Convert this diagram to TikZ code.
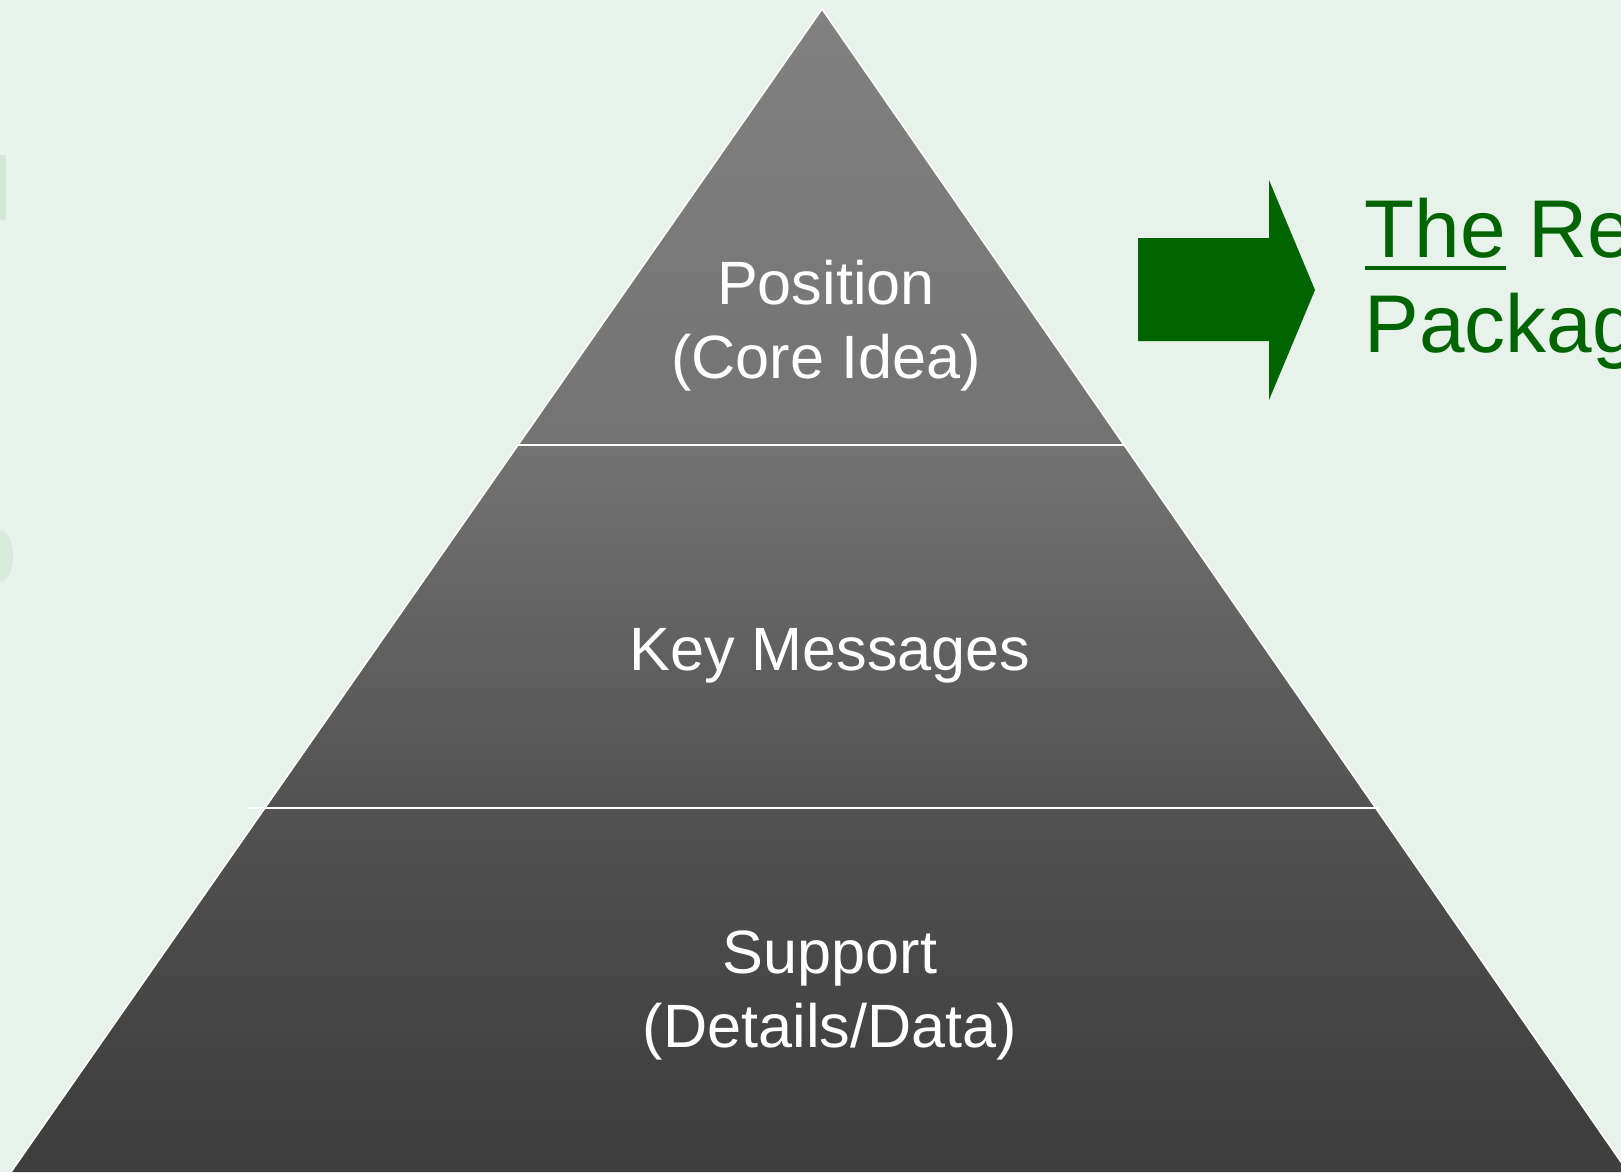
\documentclass[tikz,border=0pt]{standalone}
\usepackage{fontspec}
\setmainfont{Liberation Sans}
\usetikzlibrary{positioning}
\definecolor{bgmint}{RGB}{230,242,234}
\definecolor{arrowgreen}{RGB}{0,100,0}
\definecolor{smeargreen}{RGB}{170,215,170}
\definecolor{gA}{RGB}{62,62,62}
\definecolor{gB}{RGB}{64,64,64}
\definecolor{gC}{RGB}{82,82,82}
\definecolor{gD}{RGB}{115,115,115}
\definecolor{gE}{RGB}{129,129,129}
\pgfdeclareverticalshading{pyramidshade}{100bp}{color(0bp)=(gA); color(25bp)=(gA);
	color(28bp)=(gB); color(40.6bp)=(gC); color(56.3bp)=(gD); color(75bp)=(gE); color(100bp)=(gE)}
\newcommand{\greenuline}[1]{\setbox0\hbox{#1}\rlap{\rule[-3.8pt]{\wd0}{1.3pt}}#1}
\tikzset{layertext/.style={text=white, inner sep=0pt, align=center,
		font=\fontsize{17.4pt}{20.8pt}\selectfont},
	divider/.style={draw=white, line width=0.8pt},
	greentext/.style={text=arrowgreen, inner sep=0pt, anchor=base west, align=left,
		font=\fontsize{23.3pt}{27pt}\selectfont}}

\begin{document}
\begin{tikzpicture}[x=0.01cm, y=-0.01cm]

					% background
					\fill[bgmint] (0,0) rectangle (1621,1172);
					\useasboundingbox (0,0) rectangle (1621,1172);
					\fill[smeargreen, opacity=0.3] (0,155) rectangle (6,220);
					\fill[smeargreen, opacity=0.25] (0,556) ellipse (13 and 26);

					% pyramid
					\shade[shading=pyramidshade] (11,1172) -- (822,9) -- (1628,1172) -- cycle;
					\draw[white, line width=0.45pt] (11,1172) -- (822,9) -- (1628,1172);
					\draw[divider] (518,445) -- (1124,445);
					\draw[divider] (247,808) -- (1379,808);

					\node[layertext, anchor=base] (position) at (826,378) {Position\\(Core Idea)};
					\node[layertext, anchor=base] (keymsg) at (830,670) {Key Messages};
					\node[layertext, anchor=base] (support) at (830,1047) {Support\\(Details/Data)};

					% arrow
					\fill[arrowgreen] (1138,238) -- (1269,238) -- (1269,180) -- (1315,290)
						-- (1269,400) -- (1269,341) -- (1138,341) -- cycle;

					\node[greentext] (result) at (1364,352) {\greenuline{The} Re\\Packag};

\end{tikzpicture}
\end{document}
